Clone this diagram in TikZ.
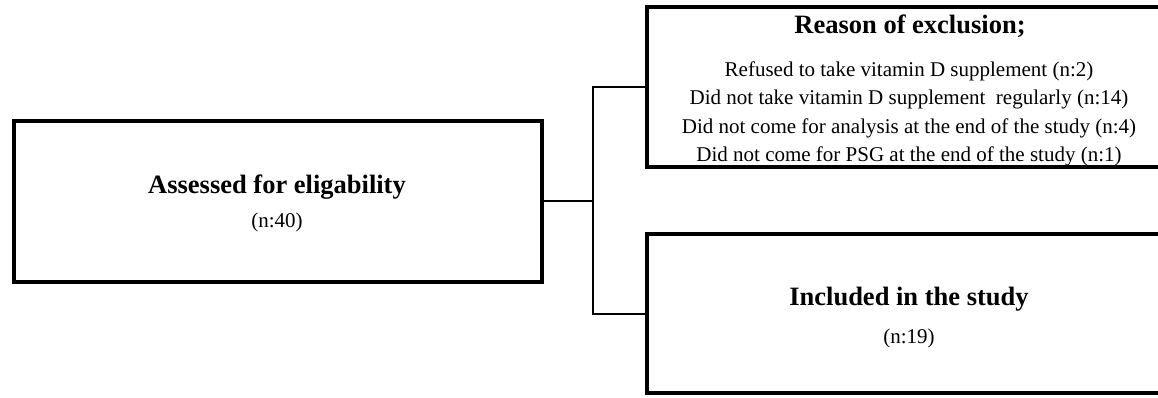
\documentclass[tikz,border=0pt]{standalone}
\usepackage{fontspec}
\setmainfont{Liberation Serif}
\begin{document}
\begin{tikzpicture}[x=1pt,y=-1pt,
  box/.style={draw=black,line width=4pt,rectangle,inner sep=0pt},
  conn/.style={draw=black,line width=2pt},
  head/.style={anchor=base,inner sep=0pt,font=\fontsize{26.5}{30}\selectfont\bfseries},
  body/.style={anchor=base,inner sep=0pt,font=\fontsize{21}{24}\selectfont}]
\useasboundingbox (0,0) rectangle (1158,397);
\clip (0,0) rectangle (1158,397);
% boxes
\node[box,minimum width=528pt,minimum height=161pt] (L) at (278,201) {};
\node[box,minimum width=524pt,minimum height=160pt] (T) at (909,87) {};
\node[box,minimum width=524pt,minimum height=159pt] (B) at (909,313.5) {};
% texts
\node[head] (l1) at (277,193) {Assessed for eligability};
\node[body] (l2) at (277,227) {(n:40)};
\node[head] (t0) at (910,33) {Reason of exclusion;};
\node[body] (t1) at (909,76) {Refused to take vitamin D supplement (n:2)};
\node[body] (t2) at (909,104.5) {Did not take vitamin D supplement\ \ regularly (n:14)};
\node[body] (t3) at (909,133) {Did not come for analysis at the end of the study (n:4)};
\node[body] (t4) at (909,161) {Did not come for PSG at the end of the study (n:1)};
\node[head] (b1) at (909,305) {Included in the study};
\node[body] (b2) at (909,343) {(n:19)};
% connectors
\coordinate (J) at (593,201);
\draw[conn] (L.east) -- (J);
\draw[conn] (T.west) -| (J) |- (B.west);
\end{tikzpicture}
\end{document}
